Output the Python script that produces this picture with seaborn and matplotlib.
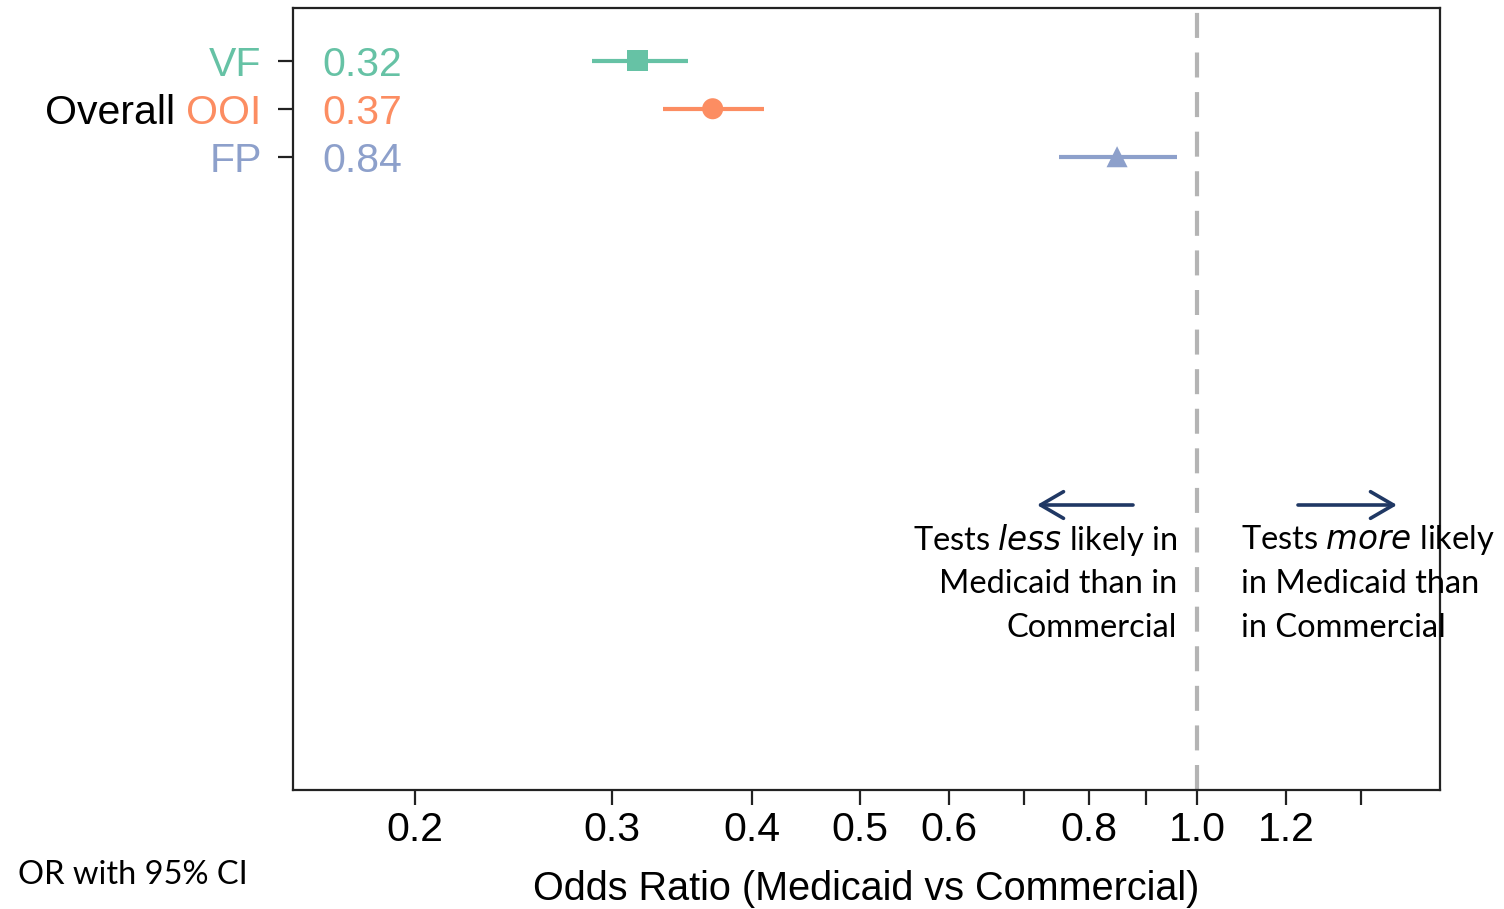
import matplotlib
matplotlib.use("Agg")
import matplotlib.pyplot as plt
import matplotlib.transforms as mtransforms
import seaborn as sns
import pandas as pd

# ---- data ----
categories = ["VF", "OOI", "FP"]
odds_ratio = [0.316, 0.369, 0.848]
ci_low = [0.288, 0.333, 0.752]
ci_high = [0.351, 0.410, 0.960]
value_labels = ["0.32", "0.37", "0.84"]
xtick_values = [0.2, 0.3, 0.4, 0.5, 0.6, 0.7, 0.8, 0.9, 1.0, 1.2, 1.4]
xtick_labels = ["0.2", "0.3", "0.4", "0.5", "0.6", "", "0.8", "", "1.0", "1.2", ""]
colors = {"VF": "#66c2a5", "OOI": "#fc8d62", "FP": "#8da0cb"}
markers = {"VF": "s", "OOI": "o", "FP": "^"}

df = pd.DataFrame({"cat": categories, "or": odds_ratio, "lo": ci_low,
                   "hi": ci_high, "row": range(len(categories))})

sns.set_style("ticks")
plt.rcParams["font.family"] = ["Liberation Sans", "DejaVu Sans"]
plt.rcParams["text.color"] = "black"
plt.rcParams["xtick.color"] = "black"
plt.rcParams["ytick.color"] = "black"
plt.rcParams["axes.labelcolor"] = "black"

FS = 29.5

fig = plt.figure(figsize=(15.04, 9.09), dpi=100)
ax = fig.add_axes([293 / 1504, 1 - 790 / 909, (1440 - 293) / 1504, (790 - 8) / 909])

ax.set_xscale("log")
ax.set_xlim(0.1556, 1.648)
ax.set_ylim(15.2, -1.1)

# reference line
ax.axvline(1.0, color="#b4b4b4", lw=3, ls=(0, (6, 3.5)), zorder=1)

# CI lines
for _, r in df.iterrows():
    ax.hlines(r["row"], r["lo"], r["hi"], color=colors[r["cat"]], lw=3, zorder=2)

sns.scatterplot(data=df, x="or", y="row", hue="cat", style="cat",
                palette=colors, markers=markers, s=230, edgecolor="none",
                legend=False, ax=ax, zorder=3)

# value labels
trans = mtransforms.blended_transform_factory(ax.transAxes, ax.transData)
for _, r in df.iterrows():
    ax.text(0.0253, r["row"], value_labels[int(r["row"])], transform=trans,
            ha="left", va="center_baseline", fontsize=FS, color=colors[r["cat"]])

# axes styling
for sp in ax.spines.values():
    sp.set_color("#222222")
    sp.set_linewidth(1.6)
ax.set_xticks(xtick_values)
ax.set_xticklabels(xtick_labels, fontsize=FS)
ax.xaxis.set_minor_locator(matplotlib.ticker.NullLocator())
ax.set_yticks(list(df["row"]))
ax.set_yticklabels(categories, fontsize=FS)
for lab, c in zip(ax.get_yticklabels(), categories):
    lab.set_color(colors[c])
ax.tick_params(axis="both", length=11, width=1.6, color="#222222")
ax.tick_params(axis="x", pad=4)
ax.tick_params(axis="y", pad=11.5)
ax.set_xlabel("Odds Ratio (Medicaid vs Commercial)", fontsize=28.5, labelpad=15)
ax.set_ylabel("")

# "Overall " prefix before OOI
fig.canvas.draw()
renderer = fig.canvas.get_renderer()
ooi_lab = ax.get_yticklabels()[1]
bb = ooi_lab.get_window_extent(renderer)
fig.text(bb.x0 / fig.bbox.width, bb.y0 / fig.bbox.height, "Overall ",
         ha="right", va="bottom", fontsize=FS, color="black")

# annotations
ann_font = ["Lato", "DejaVu Sans"]
AFS = 23.5
navy = "#203864"
fig.text(1177 / 1504, 1 - 540 / 909, "Tests $\\it{less}$ likely in", ha="right", va="center",
         fontsize=AFS, family=ann_font)
fig.text(1177 / 1504, 1 - 584 / 909, "Medicaid than in", ha="right", va="center",
         fontsize=AFS, family=ann_font)
fig.text(1177 / 1504, 1 - 628 / 909, "Commercial", ha="right", va="center",
         fontsize=AFS, family=ann_font)
fig.text(1241 / 1504, 1 - 540 / 909, "Tests $\\it{more}$ likely", ha="left", va="center",
         fontsize=AFS, family=ann_font)
fig.text(1241 / 1504, 1 - 584 / 909, "in Medicaid than", ha="left", va="center",
         fontsize=AFS, family=ann_font)
fig.text(1241 / 1504, 1 - 628 / 909, "in Commercial", ha="left", va="center",
         fontsize=AFS, family=ann_font)
fig.text(18 / 1504, 1 - 875 / 909, "OR with 95% CI", ha="left", va="center",
         fontsize=AFS, family=ann_font)

arrow_kw = dict(arrowstyle="->,head_length=0.55,head_width=0.32", color=navy, lw=2.6,
                mutation_scale=30, shrinkA=0, shrinkB=0)
fig.add_artist(matplotlib.patches.FancyArrowPatch(
    (1133 / 1504, 1 - 505 / 909), (1037 / 1504, 1 - 505 / 909),
    transform=fig.transFigure, **arrow_kw))
fig.add_artist(matplotlib.patches.FancyArrowPatch(
    (1298 / 1504, 1 - 505 / 909), (1397 / 1504, 1 - 505 / 909),
    transform=fig.transFigure, **arrow_kw))

fig.savefig("out.png", dpi=100)
